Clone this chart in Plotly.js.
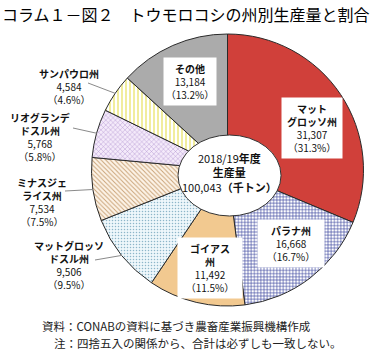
<!DOCTYPE html>
<html><head><meta charset="utf-8">
<script src="https://cdn.plot.ly/plotly-3.0.1.min.js"></script>
<style>html,body{margin:0;padding:0;background:#fff}#chart{width:387px;height:352px}</style>
</head><body><div id="chart"></div>
<script>
// ---- data ----
const states = ['マットグロッソ州','パラナ州','ゴイアス州','マットグロッソドスル州','ミナスジェライス州','リオグランデドスル州','サンパウロ州','その他'];
const stateLabelLines = ['マット<br>グロッソ州','パラナ州','ゴイアス<br>州','マットグロッソ<br>ドスル州','ミナスジェ<br>ライス州','リオグランデ<br>ドスル州','サンパウロ州','その他'];
const production = [31307, 16668, 11492, 9506, 7534, 5768, 4584, 13184];
const season = '2018/19';
const titleText = 'コラム１－図２　トウモロコシの州別生産量と割合';
const sourceNote = '資料：CONABの資料に基づき農畜産業振興機構作成';
const roundingNote = '注：四捨五入の関係から、合計は必ずしも一致しない。';

// ---- styles ----
const W = 387, H = 352;
const FONT = '"Noto Sans CJK JP", "Noto Sans", sans-serif';
const fillColors = ['#d0403a', '#ffffff', '#f2c990', '#eef7fb', '#fdf4e8', '#f4eafa', '#ffffff', '#ababab'];
const patShapes = ['', '+', '', '.', '\\', 'x', '|', ''];
const patFg = ['#000', '#3a449c', '#000', '#8db6c9', '#c9a276', '#a684c8', '#ece674', '#000'];
const patSize = [4, 3.2, 4, 3, 3.2, 3.4, 4, 4];
const patSolid = [0.3, 0.35, 0.3, 0.2, 0.3, 0.22, 0.35, 0.3];
// label layout (pixel centres), inside labels get white boxes
const labelPos = [[312,128],[291,243],[210,268],[69,265],[42,202],[40,137],[69,86],[190,82]];
const boxed = [true, true, true, false, false, false, false, true];
const boxWidth = [54, 60, 58, 0, 0, 0, 0, 46];
const leaderEnd = [null, null, null, [95,260], [65,191], [73,128], [88,83], null];

const cx = 227.5, cy = 170, R = 136;
const px = x => x / W, py = y => 1 - y / H;

const total = production.reduce((a, b) => a + b, 0);
const fmt = n => n.toLocaleString('en-US');

const trace = {
  type: 'pie',
  values: production,
  labels: states,
  sort: false,
  direction: 'clockwise',
  rotation: 0,
  textinfo: 'none',
  hoverinfo: 'skip',
  showlegend: false,
  domain: {x: [px(cx - R), px(cx + R)], y: [py(cy + R), py(cy - R)]},
  marker: {
    colors: fillColors,
    line: {color: '#2a2a2a', width: 1},
    pattern: {shape: patShapes, fgcolor: patFg, bgcolor: fillColors, size: patSize, solidity: patSolid, fillmode: 'replace'}
  }
};

const annotations = [];
const shapes = [];
let cum = 0;
production.forEach((v, i) => {
  const mid = (cum + v / 2) / total * 2 * Math.PI;
  cum += v;
  const pct = (v / total * 100).toFixed(1);
  const txt = '<b>' + stateLabelLines[i] + '</b><br>' + fmt(v) + '<br>（' + pct + '%）';
  const a = {
    xref: 'paper', yref: 'paper', x: px(labelPos[i][0]), y: py(labelPos[i][1]),
    xanchor: 'center', yanchor: 'middle', showarrow: false, align: 'center',
    text: txt, font: {family: FONT, size: 10, color: '#111'}
  };
  if (boxed[i]) { a.bgcolor = '#ffffff'; a.borderpad = 3; a.width = boxWidth[i]; }
  annotations.push(a);
  if (leaderEnd[i]) {
    const ex = cx + R * Math.sin(mid), ey = cy - R * Math.cos(mid);
    shapes.push({type: 'line', xref: 'paper', yref: 'paper',
      x0: px(leaderEnd[i][0]), y0: py(leaderEnd[i][1]), x1: px(ex), y1: py(ey),
      line: {color: '#8a8a8a', width: 1}});
  }
});

// centre ellipse
shapes.push({type: 'circle', xref: 'paper', yref: 'paper', layer: 'above',
  x0: px(178), x1: px(281), y0: py(216), y1: py(135),
  fillcolor: '#ffffff', line: {color: '#333', width: 1}});

annotations.push({xref: 'paper', yref: 'paper', x: px(229.5), y: py(172), showarrow: false,
  xanchor: 'center', yanchor: 'middle', align: 'center',
  text: season + '<b>年度</b><br><b>生産量</b><br>' + fmt(total) + '<b>（千トン）</b>',
  font: {family: FONT, size: 11, color: '#111'}});

annotations.push({xref: 'paper', yref: 'paper', x: px(40), y: py(326), showarrow: false,
  xanchor: 'left', yanchor: 'middle', text: sourceNote, font: {family: FONT, size: 11.5, color: '#222'}});
annotations.push({xref: 'paper', yref: 'paper', x: px(52), y: py(343), showarrow: false,
  xanchor: 'left', yanchor: 'middle', text: roundingNote, font: {family: FONT, size: 11.5, color: '#222'}});

// title as an annotation so it sits fully inside the page
annotations.push({xref: 'paper', yref: 'paper', x: px(1), y: py(1), showarrow: false,
  xanchor: 'left', yanchor: 'top', borderpad: 0, text: titleText,
  font: {family: FONT, size: 16, color: '#000'}});

const layout = {
  width: W, height: H,
  margin: {l: 0, r: 0, t: 0, b: 0},
  paper_bgcolor: '#ffffff',
  shapes: shapes,
  annotations: annotations
};

Plotly.newPlot('chart', [trace], layout, {displayModeBar: false, staticPlot: true});
</script></body></html>
